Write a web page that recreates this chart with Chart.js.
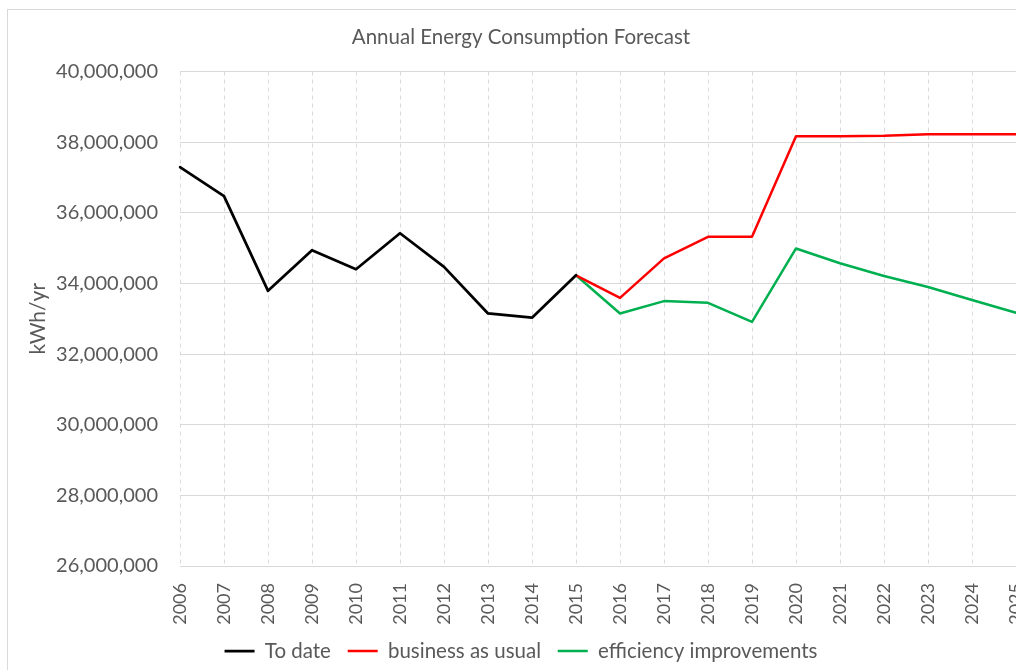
<!DOCTYPE html>
<html>
<head>
<meta charset="utf-8">
<script src="https://cdn.jsdelivr.net/npm/chart.js@4/dist/chart.umd.min.js"></script>
<style>
  html, body { margin: 0; padding: 0; background: #ffffff; overflow: hidden; width: 1016px; height: 670px; }
  #frame { position: absolute; left: 7px; top: 9px; width: 1024px; height: 680px; border: 1px solid #d9d9d9; }
  #c { display: block; }
</style>
</head>
<body>
<div id="frame"><canvas id="c" width="1024" height="680"></canvas></div>
<script>
const years = ['2006','2007','2008','2009','2010','2011','2012','2013','2014','2015',
               '2016','2017','2018','2019','2020','2021','2022','2023','2024','2025'];
const toDate = [37290000, 36470000, 33790000, 34940000, 34400000, 35420000, 34470000, 33150000, 33030000, 34230000,
                null, null, null, null, null, null, null, null, null, null];
const businessAsUsual = [null, null, null, null, null, null, null, null, null, 34230000,
                         33590000, 34710000, 35320000, 35320000, 38170000, 38170000, 38180000, 38220000, 38220000, 38220000];
const efficiency = [null, null, null, null, null, null, null, null, null, 34230000,
                    33150000, 33500000, 33450000, 32910000, 34990000, 34570000, 34210000, 33900000, 33530000, 33170000];
const yMin = 26000000, yMax = 40000000, yStep = 2000000;

const FONT = 'Lato, "Open Sans", sans-serif';
const GREY = '#595959';

new Chart(document.getElementById('c'), {
  type: 'line',
  data: {
    labels: years,
    datasets: [
      { label: 'To date', data: toDate, borderColor: '#000000', backgroundColor: '#000000', borderWidth: 2.75 },
      { label: 'business as usual', data: businessAsUsual, borderColor: '#ff0000', backgroundColor: '#ff0000', borderWidth: 2.5 },
      { label: 'efficiency improvements', data: efficiency, borderColor: '#00b050', backgroundColor: '#00b050', borderWidth: 2.5 }
    ]
  },
  options: {
    responsive: false,
    animation: false,
    devicePixelRatio: 1,
    spanGaps: false,
    elements: { point: { radius: 0, hoverRadius: 0 }, line: { tension: 0, borderCapStyle: 'round', borderJoinStyle: 'round' } },
    layout: { padding: { left: 18, right: 16, top: 0, bottom: 18.75 } },
    plugins: {
      title: {
        display: true,
        text: 'Annual Energy Consumption Forecast',
        color: GREY,
        font: { family: FONT, size: 20.5, weight: 'normal' },
        padding: { top: 14.7, bottom: 22.2 }
      },
      legend: {
        position: 'bottom',
        labels: {
          color: GREY,
          font: { family: FONT, size: 20.5 },
          usePointStyle: true,
          pointStyle: 'line',
          pointStyleWidth: 30,
          padding: 16.75
        }
      },
      tooltip: { enabled: false }
    },
    scales: {
      x: {
        offset: false,
        grid: { display: true, color: '#d9d9d9', lineWidth: 1, drawTicks: false },
        border: { display: false, dash: [4, 4] },
        ticks: { color: GREY, font: { family: FONT, size: 18 }, minRotation: 90, maxRotation: 90, padding: 17, autoSkip: false },
        afterFit: (s) => { s.height = 58; s.paddingRight = 4; s.paddingLeft = 0; }
      },
      y: {
        min: yMin, max: yMax,
        grid: { color: '#d9d9d9', lineWidth: 1, drawTicks: false },
        border: { display: false },
        ticks: {
          stepSize: yStep,
          color: GREY,
          font: { family: FONT, size: 20 },
          padding: 22,
          callback: (v) => v.toLocaleString('en-US')
        },
        title: {
          display: true,
          text: 'kWh/yr',
          color: GREY,
          font: { family: FONT, size: 21 },
          padding: { top: 0, bottom: 0 }
        },
        afterFit: (s) => { s.width = 154; }
      }
    }
  }
});
</script>
</body>
</html>
